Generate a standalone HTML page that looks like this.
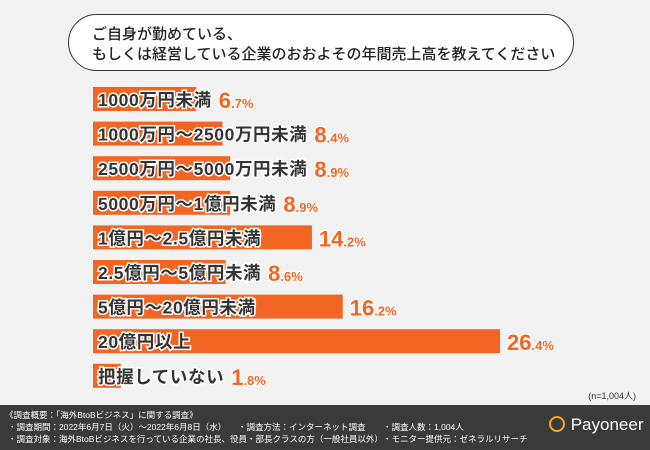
<!DOCTYPE html>
<html><head><meta charset="utf-8"><style>
body{margin:0;width:650px;height:450px;overflow:hidden;background:#f3f2f2;font-family:"Liberation Sans","Noto Sans CJK JP",sans-serif;position:relative}
.pill{position:absolute;left:68px;top:14px;width:506px;height:57px;border:1.5px solid #333;border-radius:29px;background:#fff;box-sizing:border-box}
.pill div{position:absolute;left:23px;font-size:15px;color:#222;font-weight:500;white-space:nowrap}
.foot{position:absolute;left:0;top:405px;width:650px;height:45px;background:#3a3a3a;color:#fff;font-size:8.5px}
.foot span{position:absolute;white-space:nowrap}
</style></head><body>
<div class="pill">
<div style="top:8px">ご自身が勤めている、</div>
<div style="top:28px">もしくは経営している企業のおおよその年間売上高を教えてください</div>
</div>
<svg id="chart" width="650" height="400" style="position:absolute;left:0;top:0"></svg>
<div style="position:absolute;right:14px;top:389px;font-size:9px;color:#333">(n=1,004人)</div>
<div class="foot">
<span style="left:5px;top:4px">《調査概要：「海外BtoBビジネス」に関する調査》</span>
<span style="left:8px;top:16px">・調査期間：2022年6月7日（火）～2022年6月8日（水）</span>
<span style="left:238px;top:16px">・調査方法：インターネット調査</span>
<span style="left:383px;top:16px">・調査人数：1,004人</span>
<span style="left:8px;top:28px">・調査対象：海外BtoBビジネスを行っている企業の社長、役員・部長クラスの方（一般社員以外）</span>
<span style="left:383px;top:28px">・モニター提供元：ゼネラルリサーチ</span>
<span style="left:548px;top:10px;font-size:17px"><svg width="18" height="18" style="vertical-align:-3px"><circle cx="9" cy="9" r="7" fill="none" stroke="#f5a623" stroke-width="2"/></svg> Payoneer</span>
</div>
<script>
const categories=["1000万円未満","1000万円～2500万円未満","2500万円～5000万円未満","5000万円～1億円未満","1億円～2.5億円未満","2.5億円～5億円未満","5億円～20億円未満","20億円以上","把握していない"];
const values=[6.7,8.4,8.9,8.9,14.2,8.6,16.2,26.4,1.8];
const svg=document.getElementById('chart');
const NS='http://www.w3.org/2000/svg';
const x0=93,scale=(500-93)/26.4;
const xs=v=>v*scale;
const ys=i=>87+i*34.6;
categories.forEach((c,i)=>{
 const w=xs(values[i]),y=ys(i);
 const r=document.createElementNS(NS,'rect');
 r.setAttribute('x',x0);r.setAttribute('y',y);r.setAttribute('width',w);r.setAttribute('height',24);r.setAttribute('fill','#f26522');
 
 
 svg.appendChild(r);
 const t=document.createElementNS(NS,'text');
 t.setAttribute('x',x0+5);t.setAttribute('y',y+19);t.setAttribute('font-size','17.5');t.setAttribute('font-weight','bold');t.setAttribute('letter-spacing','0.6');
 t.setAttribute('fill','#333');t.setAttribute('stroke','#fff');t.setAttribute('stroke-width','3');t.setAttribute('paint-order','stroke');
 t.setAttribute('font-family','"Liberation Sans","Noto Sans CJK JP",sans-serif');
 t.textContent=c;
 
 
 svg.appendChild(t);
 const lw=t.getComputedTextLength();
 const vx=Math.max(x0+w,x0+5+lw)+7;
 const s=values[i].toFixed(1).split('.');
 const v=document.createElementNS(NS,'text');
 v.setAttribute('x',vx);v.setAttribute('y',y+21);v.setAttribute('fill','#f26522');v.setAttribute('font-weight','bold');
 v.setAttribute('stroke','#fff');v.setAttribute('stroke-width','2');v.setAttribute('paint-order','stroke');
 v.setAttribute('font-family','"Liberation Sans",sans-serif');
 v.innerHTML='<tspan font-size="22">'+s[0]+'</tspan><tspan font-size="13">.'+s[1]+'%</tspan>';
 
 
 svg.appendChild(v);
});
</script>
</body></html>
